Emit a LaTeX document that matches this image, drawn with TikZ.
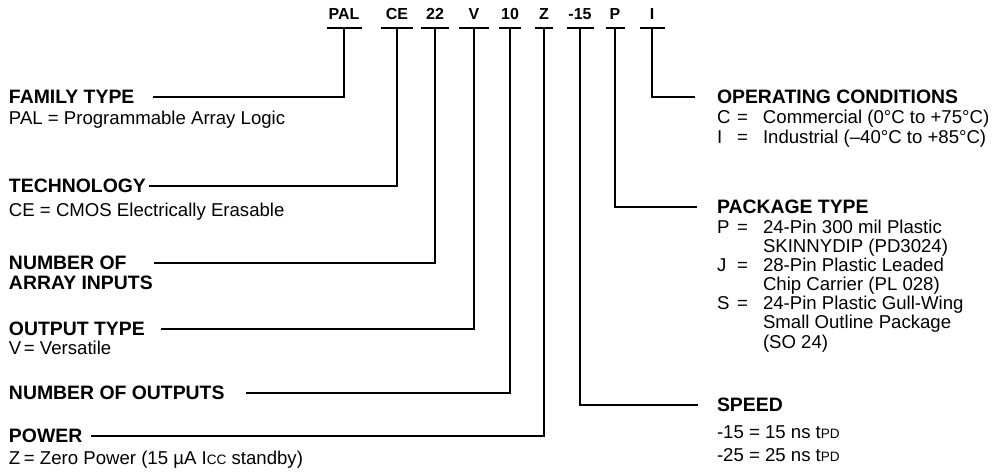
\documentclass[tikz,border=0pt]{standalone}
\usepackage{fontspec}
\setmainfont{Liberation Sans}
\newcommand{\sm}[1]{{\fontsize{6.8}{7}\selectfont #1}}
\newcommand{\eqL}[1]{\makebox[7.5pt][l]{#1}\makebox[8pt][l]{=}}
\newcommand{\eqR}[1]{\makebox[10pt][l]{#1}\makebox[13pt][l]{=}}
\begin{document}
\begin{tikzpicture}[x=0.5pt,y=-0.5pt,line width=1pt,
  code/.style={font=\fontsize{8}{8}\selectfont\bfseries,anchor=base,inner xsep=0pt,inner ysep=3.5pt,text depth=0pt},
  lab/.style={font=\fontsize{9.7}{10}\selectfont\bfseries,anchor=west,inner sep=0pt,text height=7pt,text depth=0pt},
  desc/.style={font=\fontsize{9.3}{10}\selectfont,anchor=west,inner sep=0pt,text height=6.7pt,text depth=0pt},
  bar/.style={line width=1.4pt},
  conn/.style={line width=1.1pt}]
\useasboundingbox (0,0) rectangle (1006,474);
% code letters
\node[code,minimum width=16.5pt] (cPAL) at (344,20) {PAL};
\node[code,minimum width=15pt] (cCE) at (397,20) {CE};
\node[code,minimum width=13pt] (c22) at (435,20) {22};
\node[code,minimum width=14pt] (cV) at (474,20) {V};
\node[code,minimum width=10pt] (c10) at (510,20) {10};
\node[code,minimum width=8pt] (cZ) at (544,20) {Z};
\node[code,minimum width=12.5pt] (c15) at (580,20) {-15};
\node[code,minimum width=8.5pt] (cP) at (615,20) {P};
\node[code,minimum width=11.5pt] (cI) at (652,20) {I};
\foreach \n in {cPAL,cCE,c22,cV,c10,cZ,c15,cP,cI}
  \draw[bar] (\n.south west) -- (\n.south east);
% left labels
\node[lab] (famtype) at (8,97) {FAMILY TYPE};
\node[desc] (famdesc) at (8,118) {PAL = Programmable Array Logic};
\node[lab] (tech) at (8,186) {TECHNOLOGY};
\node[desc] (techdesc) at (8,210) {CE = CMOS Electrically Erasable};
\node[lab] (nai) at (8,263) {NUMBER OF};
\node[lab] (nai2) at (8,283) {ARRAY INPUTS};
\node[lab] (otype) at (8,329) {OUTPUT TYPE};
\node[desc] (odesc) at (8,348) {\eqL{V}Versatile};
\node[lab] (nout) at (8,393) {NUMBER OF OUTPUTS};
\node[lab] (power) at (8,436) {POWER};
\node[desc] (pdesc) at (8,458) {\eqL{Z}Zero Power (15 µA I\sm{CC} standby)};
% right labels
\node[lab] (opc) at (716,97) {OPERATING CONDITIONS};
\node[desc] (opc1) at (716,117) {\eqR{C}Commercial (0°C to +75°C)};
\node[desc] (opc2) at (716,137) {\eqR{I}Industrial (--40°C to +85°C)};
\node[lab] (pkg) at (716,207) {PACKAGE TYPE};
\node[desc] (pk1) at (716,227) {\eqR{P}24-Pin 300 mil Plastic};
\node[desc] (pk2) at (762,246) {SKINNYDIP (PD3024)};
\node[desc] (pk3) at (716,265) {\eqR{J}28-Pin Plastic Leaded};
\node[desc] (pk4) at (762,284) {Chip Carrier (PL 028)};
\node[desc] (pk5) at (716,303) {\eqR{S}24-Pin Plastic Gull-Wing};
\node[desc] (pk6) at (762,322) {Small Outline Package};
\node[desc] (pk7) at (762,342) {(SO 24)};
\node[lab] (speed) at (716,405) {SPEED};
\node[desc] (sp1) at (716,432) {-15 = 15 ns t\sm{PD}};
\node[desc] (sp2) at (716,455) {-25 = 25 ns t\sm{PD}};
% connectors
\draw[conn,shorten >=9pt] (cPAL.south) |- (famtype.east);
\draw[conn,shorten >=1pt] (cCE.south) |- (tech.east);
\draw[conn,shorten >=13.5pt] (c22.south) |- (nai.east);
\draw[conn,shorten >=7.5pt] (cV.south) |- (otype.east);
\draw[conn,shorten >=10pt] (c10.south) |- (nout.east);
\draw[conn,shorten >=4pt] (cZ.south) |- (power.east);
\draw[conn,shorten >=9pt] (c15.south) |- (speed.west);
\draw[conn,shorten >=9.5pt] (cP.south) |- (pkg.west);
\draw[conn,shorten >=10.5pt] (cI.south) |- (opc.west);
\end{tikzpicture}
\end{document}
